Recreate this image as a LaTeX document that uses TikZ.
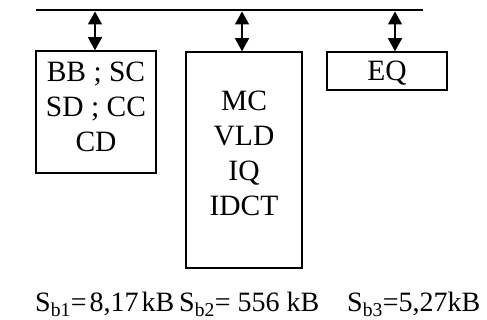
\documentclass[tikz,border=0pt]{standalone}
\usepackage{fontspec}
\setmainfont{Liberation Serif}
\usetikzlibrary{arrows.meta,positioning}

\begin{document}
\begin{tikzpicture}[x=1pt,y=-1pt,font=\fontsize{28}{35}\selectfont, box/.style={draw,line width=1.5pt,align=center,inner sep=0pt,font=\fontsize{29.5}{35}\selectfont},arr/.style={{Triangle[length=13pt,width=14pt]}-{Triangle[length=13pt,width=14pt]},line width=1.3pt},bus/.style={line width=1.8pt},size/.style={anchor=base west,inner sep=0pt}]
\useasboundingbox (0,0) rectangle (487,320);
\coordinate (busl) at (36,10); \coordinate (busr) at (423,10);
\draw[bus] (busl)--(busr);
\node[box,minimum width=120pt,minimum height=122pt,text depth=10.5pt] (bb) at (96,112) {BB ; SC\\SD ; CC\\CD};
\node[box,minimum width=116pt,minimum height=216pt,text depth=13.5pt] (mc) at (244,160) {MC\\VLD\\IQ\\IDCT};
\node[box,minimum width=120pt,minimum height=38pt,text depth=0pt] (eq) at (387,71) {EQ};
\coordinate (p1) at (95,11.5); \coordinate (p2) at (242,11.5); \coordinate (p3) at (395,11.5);
\draw[arr] (p1)--(p1|-bb.north); \draw[arr] (p2)--(p2|-mc.north); \draw[arr] (p3)--(p3|-eq.north);
\node[size] (sb1) at (35,311) {S\textsubscript{b1}=\hspace{3pt}8,17\hspace{3pt}kB};
\node[size] (sb2) at (179,311) {S\textsubscript{b2}= 556 kB};
\node[size] (sb3) at (347,311) {S\textsubscript{b3}=5,27kB};
\end{tikzpicture}
\end{document}
